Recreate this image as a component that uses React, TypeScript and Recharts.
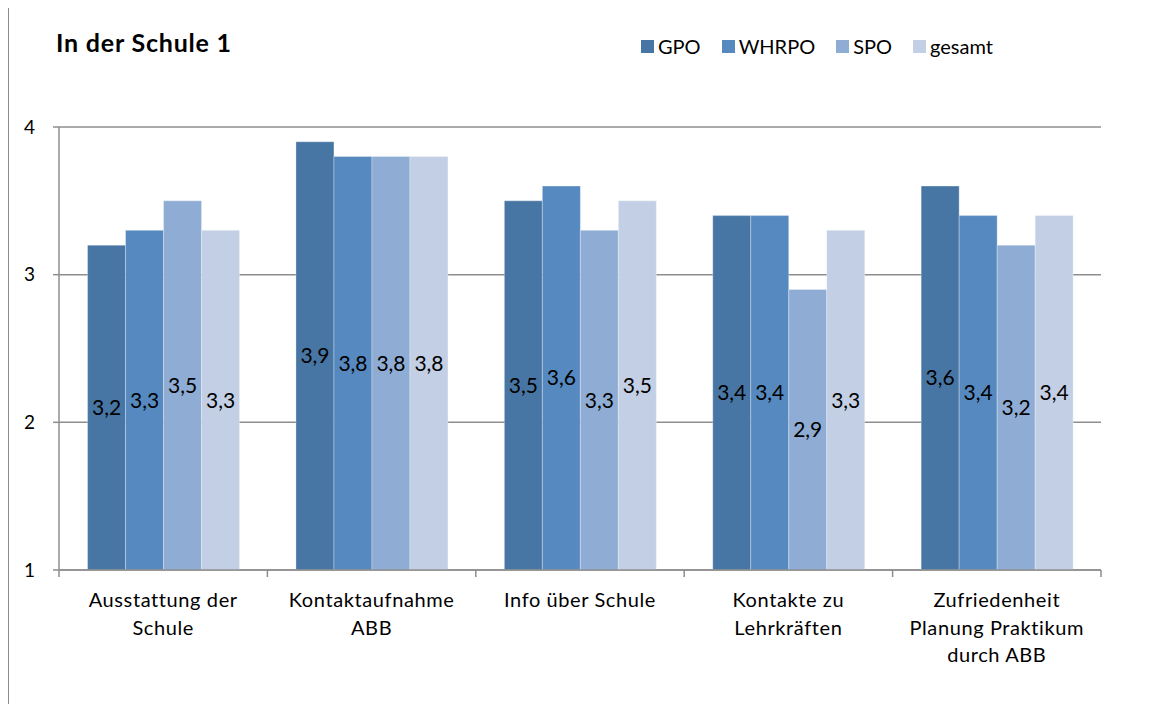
import React from 'react';
import { BarChart, Bar, XAxis, YAxis, CartesianGrid, LabelList } from 'recharts';

// Werte aus der Umfrage "In der Schule 1"
const categories = [
    'Ausstattung der\nSchule',
    'Kontaktaufnahme\nABB',
    'Info über Schule',
    'Kontakte zu\nLehrkräften',
    'Zufriedenheit\nPlanung Praktikum\ndurch ABB',
];
const seriesNames = ['GPO', 'WHRPO', 'SPO', 'gesamt'];
const gpo = [3.2, 3.9, 3.5, 3.4, 3.6];
const whrpo = [3.3, 3.8, 3.6, 3.4, 3.4];
const spo = [3.5, 3.8, 3.3, 2.9, 3.2];
const gesamt = [3.3, 3.8, 3.5, 3.3, 3.4];
const yTicks = [1, 2, 3, 4];

const colors = ['#4876a4', '#5689bf', '#8fadd4', '#c3cfe4'];
const FONT = 'Lato, "Open Sans", sans-serif';
const AXIS = '#8e8e8e';

const W = 1143;
const H = 696;
const MARGIN = { top: 119, right: 51, bottom: 0, left: 0 };
const Y_AXIS_W = 50;
const PLOT_W = W - MARGIN.left - MARGIN.right - Y_AXIS_W;

const data = categories.map((name, i) => ({
    name,
    GPO: gpo[i],
    WHRPO: whrpo[i],
    SPO: spo[i],
    gesamt: gesamt[i],
}));

const CategoryTick = (props: any) => {
    const { x, y, payload, index } = props;
    const bw = PLOT_W / categories.length;
    const lines = String(payload.value).split('\n');
    return (
        <g>
            <line x1={x - bw / 2} x2={x - bw / 2} y1={y} y2={y + 7} stroke={AXIS} strokeWidth={1.5} />
            {index === categories.length - 1 && (
                <line x1={x + bw / 2} x2={x + bw / 2} y1={y} y2={y + 7} stroke={AXIS} strokeWidth={1.5} />
            )}
            <text
                x={x}
                y={y + 37}
                textAnchor="middle"
                fill="#000"
                fontSize={20}
                letterSpacing={0.6}
                fontFamily={FONT}
            >
                {lines.map((l, i) => (
                    <tspan key={i} x={x} dy={i === 0 ? 0 : 27.5}>
                        {l}
                    </tspan>
                ))}
            </text>
        </g>
    );
};

const fmt = (v: any) => String(v).replace('.', ',');

const App: React.FC = () => {
    return (
        <div
            style={{
                position: 'relative',
                width: W,
                height: H,
                marginTop: -1,
                borderLeft: '1px solid #8c8c8c',
                borderTop: '1px solid #8c8c8c',
                fontFamily: FONT,
            }}
        >
            <div
                style={{
                    position: 'absolute',
                    left: 47,
                    top: 22,
                    fontSize: 25,
                    lineHeight: '25px',
                    letterSpacing: 0.8,
                    fontWeight: 700,
                    color: '#000',
                    whiteSpace: 'nowrap',
                }}
            >
                In der Schule 1
            </div>
            <div
                style={{
                    position: 'absolute',
                    left: 632,
                    top: 26,
                    display: 'flex',
                    alignItems: 'center',
                    fontSize: 20,
                    lineHeight: '24px',
                    color: '#000',
                    whiteSpace: 'nowrap',
                }}
            >
                {seriesNames.map((s, i) => (
                    <div key={s} style={{ display: 'flex', alignItems: 'center', marginRight: 21 }}>
                        <span
                            style={{
                                width: 13,
                                height: 13,
                                background: colors[i],
                                marginRight: 4,
                                display: 'inline-block',
                            }}
                        />
                        <span>{s}</span>
                    </div>
                ))}
            </div>
            <BarChart width={W} height={H} data={data} margin={MARGIN} barGap={0} barCategoryGap="13.7%">
                <CartesianGrid vertical={false} stroke={AXIS} strokeWidth={1.5} />
                <XAxis
                    dataKey="name"
                    height={H - MARGIN.top - 443}
                    interval={0}
                    tickSize={0}
                    tickMargin={0}
                    tickLine={false}
                    axisLine={{ stroke: AXIS, strokeWidth: 1.5 }}
                    tick={<CategoryTick />}
                />
                <YAxis
                    domain={[1, 4]}
                    ticks={yTicks}
                    width={Y_AXIS_W}
                    tickSize={6}
                    tickMargin={18}
                    axisLine={{ stroke: AXIS, strokeWidth: 1.5 }}
                    tickLine={{ stroke: AXIS, strokeWidth: 1.5 }}
                    tick={{ fill: '#000', fontSize: 19, fontFamily: FONT }}
                />
                {seriesNames.map((s, i) => (
                    <Bar
                        key={s}
                        dataKey={s}
                        fill={colors[i]}
                        stroke="#ffffff"
                        strokeOpacity={0.3}
                        strokeWidth={1}
                        isAnimationActive={false}
                    >
                        <LabelList
                            dataKey={s}
                            position="center"
                            formatter={fmt}
                            fill="#000"
                            stroke="none"
                            fontSize={21}
                            fontFamily={FONT}
                        />
                    </Bar>
                ))}
            </BarChart>
        </div>
    );
};

export default App;
